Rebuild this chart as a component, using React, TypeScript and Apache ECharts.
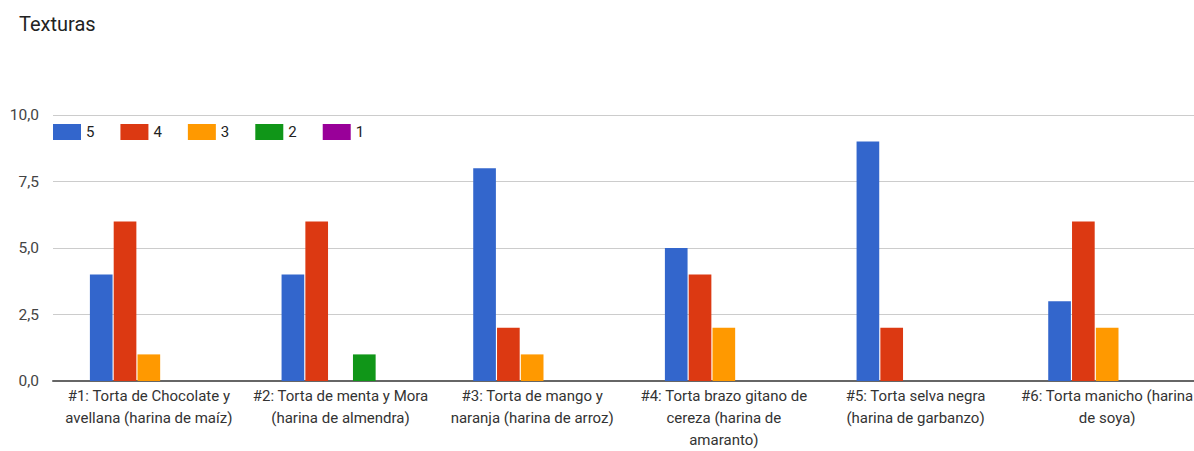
import React, { useEffect, useRef } from "react";
import * as echarts from "echarts";

const categories = [
  "#1: Torta de Chocolate y\navellana (harina de maíz)",
  "#2: Torta de menta y Mora\n(harina de almendra)",
  "#3: Torta de mango y\nnaranja (harina de arroz)",
  "#4: Torta brazo gitano de\ncereza (harina de\namaranto)",
  "#5: Torta selva negra\n(harina de garbanzo)",
  "#6: Torta manicho (harina\nde soya)",
];
const seriesNames = ["5", "4", "3", "2", "1"];
const s5 = [4, 4, 8, 5, 9, 3];
const s4 = [6, 6, 2, 4, 2, 6];
const s3 = [1, 0, 1, 2, 0, 2];
const s2 = [0, 1, 0, 0, 0, 0];
const s1 = [0, 0, 0, 0, 0, 0];
const colors = ["#3366cc", "#dc3912", "#ff9900", "#109618", "#990099"];

export default function App() {
  const ref = useRef<HTMLDivElement>(null);
  useEffect(() => {
    document.body.style.margin = "0";
    const chart = echarts.init(ref.current!, null, { renderer: "svg" });
    const all = [s5, s4, s3, s2, s1];
    chart.setOption({
      animation: false,
      textStyle: { fontFamily: "Roboto, Arial, sans-serif" },
      title: {
        text: "Texturas",
        left: 14,
        top: 9,
        textStyle: { fontSize: 20, fontWeight: "normal", color: "#222" },
      },
      legend: {
        data: seriesNames,
        left: 48,
        top: 119,
        icon: "rect",
        itemWidth: 28,
        itemHeight: 16,
        itemGap: 26,
        textStyle: { fontSize: 15, color: "#222" },
      },
      grid: { left: 53, right: 0, top: 115, bottom: 68 },
      xAxis: {
        type: "category",
        data: categories,
        axisTick: { show: false },
        axisLine: { lineStyle: { color: "#666", width: 2 } },
        axisLabel: {
          interval: 0,
          fontSize: 15,
          color: "#333",
          lineHeight: 22,
          margin: 4,
          align: "center",
        },
      },
      yAxis: {
        type: "value",
        min: 0,
        max: 10,
        interval: 2.5,
        axisLabel: {
          fontSize: 15.5,
          color: "#444",
          margin: 14,
          formatter: (v: number) => v.toFixed(1).replace(".", ","),
        },
        splitLine: { lineStyle: { color: "#ccc", width: 1 } },
      },
      series: seriesNames.map((n, i) => ({
        name: n,
        type: "bar",
        data: all[i],
        itemStyle: { color: colors[i] },
        barGap: "5%",
        barCategoryGap: "38.5%",
      })),
    });
    return () => chart.dispose();
  }, []);
  return (
    <div style={{ width: 1194, height: 451, overflow: "hidden" }}>
      <div ref={ref} style={{ width: 1203, height: 451 }} />
    </div>
  );
}
